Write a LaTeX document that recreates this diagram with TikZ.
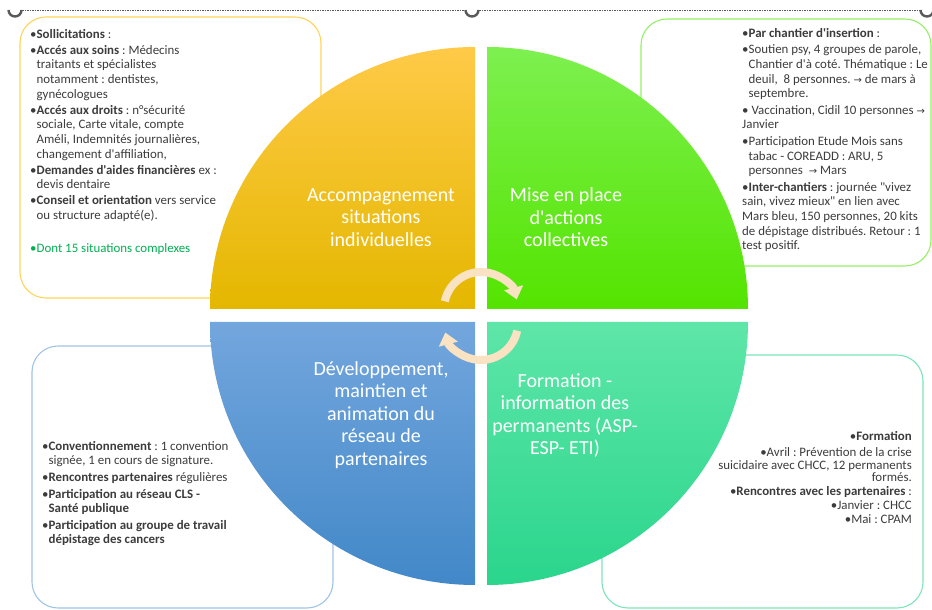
\documentclass[tikz,border=0pt]{standalone}
\usepackage{fontspec}
\setmainfont{Carlito}[Ligatures=TeXOff]
\newfontfamily\arrowfont{DejaVu Sans}
\usetikzlibrary{arrows.meta}
\definecolor{txtgray}{RGB}{60,60,60}
\definecolor{dontgreen}{RGB}{0,176,80}
\definecolor{bxorange}{RGB}{255,212,90}
\definecolor{bxgreen}{RGB}{150,240,100}
\definecolor{bxblue}{RGB}{160,196,230}
\definecolor{bxteal}{RGB}{125,230,185}
\definecolor{orTop}{RGB}{255,202,72}
\definecolor{orMid}{RGB}{255,193,0}
\definecolor{orBot}{RGB}{228,183,0}
\definecolor{grTop}{RGB}{125,240,80}
\definecolor{grMid}{RGB}{100,244,32}
\definecolor{grBot}{RGB}{84,228,0}
\definecolor{blTop}{RGB}{115,166,221}
\definecolor{blBot}{RGB}{66,136,200}
\definecolor{tlTop}{RGB}{94,230,168}
\definecolor{tlBot}{RGB}{42,213,140}
\definecolor{peach}{RGB}{250,227,195}
\definecolor{handlegray}{RGB}{90,90,90}
\newcommand{\bind}{\hphantom{•}}
\newcommand{\ra}{{\arrowfont\fontsize{10}{10}\selectfont →}}
\frenchspacing
\begin{document}
\begin{tikzpicture}[x=1pt,y=1pt,
  infobox/.style={draw, line width=1.1pt, rounded corners=26pt, inner sep=0pt, fill=white},
  quadtext/.style={text=white, font=\fontsize{20}{22.6}\selectfont, align=center, inner sep=0pt},
  bodytext/.style={text=txtgray, font=\fontsize{12.9}{14.6}\selectfont, align=left, inner sep=0pt, anchor=north west},
  cyc/.style={draw=peach, line width=8pt, -{Triangle[width=19pt,length=12pt]}},
  selline/.style={draw=handlegray, line width=0.6pt, dash pattern=on 1.5pt off 1pt},
  handle/.style={draw=handlegray, line width=2.4pt}]
\useasboundingbox (0,0) rectangle (932,610);

% selection frame
\coordinate (s1) at (22,600);
\coordinate (s2) at (465,600);
\coordinate (s3) at (479,600);
\coordinate (s4) at (920,600);
\draw[selline] (s1) -- (s2);
\draw[selline] (s3) -- (s4);
\coordinate (h1) at (15,600);
\coordinate (h2) at (472,600);
\coordinate (h3) at (927,600);
\draw[handle] ([xshift=-6.5pt]h1) arc[start angle=180,end angle=360,radius=6.5];
\draw[handle] ([xshift=-6.5pt]h2) arc[start angle=180,end angle=360,radius=6.5];
\draw[handle] ([xshift=-6.5pt]h3) arc[start angle=180,end angle=360,radius=6.5];

% boxes
\node[infobox, draw=bxorange, minimum width=301pt, minimum height=281pt] (b1) at (170.5,452.5) {};
\node[infobox, draw=bxgreen, minimum width=290pt, minimum height=247pt] (b2) at (786,467.5) {};
\node[infobox, draw=bxblue, minimum width=301pt, minimum height=262pt] (b3) at (182.5,133) {};
\node[infobox, draw=bxteal, minimum width=321pt, minimum height=253pt] (b4) at (762.5,128.5) {};

% quadrants
\path[top color=orTop, middle color=orMid, bottom color=orBot]
  (475,301) -- (475,563) arc[start angle=90, end angle=180, x radius=265, y radius=262] -- cycle;
\path[top color=grTop, middle color=grMid, bottom color=grBot]
  (487,301) -- (487,563) arc[start angle=90, end angle=0, x radius=261, y radius=262] -- cycle;
\path[top color=blTop, bottom color=blBot]
  (475,288) -- (210,288) arc[start angle=180, end angle=270, x radius=265, y radius=263] -- cycle;
\path[top color=tlTop, bottom color=tlBot]
  (487,288) -- (748,288) arc[start angle=0, end angle=-90, x radius=261, y radius=263] -- cycle;

% quadrant titles
\node[quadtext] (q1) at (381,392.5) {Accompagnement\\situations\\individuelles};
\node[quadtext] (q2) at (566,392.5) {Mise en place\\d'actions\\collectives};
\node[quadtext] (q3) at (381,195) {Développement,\\maintien et\\animation du\\réseau de\\partenaires};
\node[quadtext] (q4) at (565,194.5) {Formation -\\information des\\permanents (ASP-\\ESP- ETI)};

% cycle arrows
\coordinate (c1) at (481,301);
\coordinate (c2) at (481,287);
\draw[cyc] ([shift={(168:37)}]c1) arc[start angle=168, end angle=15, radius=37];
\draw[cyc] ([shift={(-12:37)}]c2) arc[start angle=-12, end angle=-165, radius=37];

% texts
\node[bodytext] (t1) at (30,581) {•\textbf{Sollicitations} :\\[1.5pt]
•\textbf{Accés aux soins} : Médecins\\
\bind traitants et spécialistes\\
\bind notamment : dentistes,\\
\bind gynécologues\\[1.5pt]
•\textbf{Accés aux droits} : n°sécurité\\
\bind sociale, Carte vitale, compte\\
\bind Améli, Indemnités journalières,\\
\bind changement d'affiliation,\\[1.5pt]
•\textbf{Demandes d'aides financières} ex :\\
\bind devis dentaire\\[1.5pt]
•\textbf{Conseil et orientation} vers service\\
\bind ou structure adapté(e).\\[18pt]
\textcolor{dontgreen}{•Dont 15 situations complexes}};

\node[bodytext] (t2) at (742,582) {•\textbf{Par chantier d'insertion} :\\[2pt]
•Soutien psy, 4 groupes de parole,\\
\bind Chantier d'à coté. Thématique : Le\\
\bind deuil,\ \ 8 personnes. \ra{} de mars à\\
\bind septembre.\\[2pt]
• Vaccination, Cidil 10 personnes \ra\\
Janvier\\[2pt]
•Participation Etude Mois sans\\
\bind tabac - COREADD : ARU, 5\\
\bind personnes\ \ \ra{} Mars\\[2pt]
•\textbf{Inter-chantiers} : journée "vivez\\
sain, vivez mieux" en lien avec\\
Mars bleu, 150 personnes, 20 kits\\
de dépistage distribués. Retour : 1\\
test positif.};

\node[bodytext] (t3) at (42,169) {•\textbf{Conventionnement} : 1 convention\\
\bind signée, 1 en cours de signature.\\[2pt]
•\textbf{Rencontres partenaires} régulières\\[2pt]
•\textbf{Participation au réseau CLS -}\\
\bind\textbf{Santé publique}\\[2pt]
•\textbf{Participation au groupe de travail}\\
\bind\textbf{dépistage des cancers}};

\node[bodytext, font=\fontsize{12.9}{12.5}\selectfont, align=right, anchor=north east] (t4) at (912,179) {•\textbf{Formation}\\[4pt]
•Avril : Prévention de la crise\\
suicidaire avec CHCC, 12 permanents\\
formés.\\[1pt]
•\textbf{Rencontres avec les partenaires} :\\[1.5pt]
•Janvier : CHCC\\[1.5pt]
•Mai : CPAM};
\end{tikzpicture}
\end{document}
